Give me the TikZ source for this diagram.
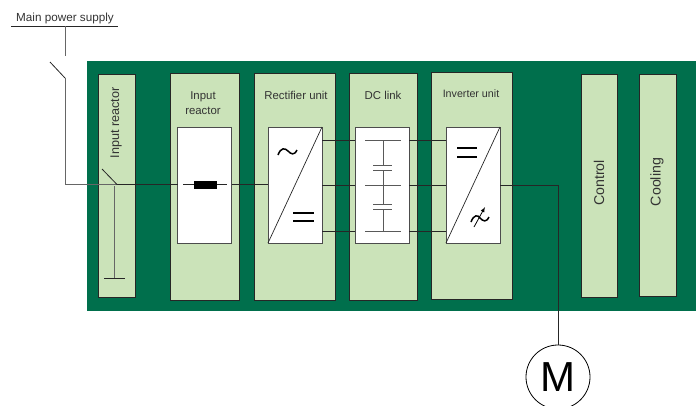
\documentclass[tikz,border=0pt]{standalone}
\usepackage{fontspec}
\setmainfont{Liberation Sans}
\definecolor{panelgreen}{HTML}{006F4C}
\definecolor{unitgreen}{HTML}{CBE3B9}
\definecolor{labelgrey}{HTML}{333333}
\definecolor{linegrey}{HTML}{666666}
\tikzset{
	panel/.style={fill=panelgreen,inner sep=0pt,outer sep=0pt},
	unitbox/.style={draw=black!85,fill=unitgreen,line width=0.8pt,inner sep=0pt,outer sep=0pt},
	whitebox/.style={draw=black!70,fill=white,line width=0.7pt,inner sep=0pt,outer sep=0pt,minimum width=54,minimum height=116},
	label/.style={text=labelgrey,font=\fontsize{11.4}{13}\selectfont,inner sep=0pt},
	sidelabel/.style={label,rotate=90,font=\fontsize{12.6}{14}\selectfont},
	biglabel/.style={label,rotate=90,font=\fontsize{14.2}{16}\selectfont},
	wire/.style={draw=black!85,line width=0.8pt},
	greywire/.style={draw=linegrey,line width=1pt},
	plate/.style={draw=black!65,line width=0.9pt},
	bar/.style={draw=black,line width=1.3pt},
}
\begin{document}
\begin{tikzpicture}[x=1pt,y=-1pt]
	\useasboundingbox (0,0) rectangle (700,405);
	\clip (0,0) rectangle (700,405);
	\node[panel,minimum width=609,minimum height=250] (panel) at (391.5,186) {};
	% units
	\node[unitbox,minimum width=37,minimum height=222.5] (earthing) at (117,185.75) {};
	\node[unitbox,minimum width=69,minimum height=227] (reactor) at (204.5,186.5) {};
	\node[unitbox,minimum width=81,minimum height=227] (rectifier) at (294.5,186.5) {};
	\node[unitbox,minimum width=68,minimum height=227] (dclink) at (383,186.5) {};
	\node[unitbox,minimum width=81,minimum height=227] (inverter) at (472,185.5) {};
	\node[unitbox,minimum width=36,minimum height=223] (control) at (599,185.5) {};
	\node[unitbox,minimum width=37,minimum height=222] (cooling) at (657.5,185) {};
	\node[whitebox] (reactorw) at (204.5,185) {};
	\node[whitebox] (rectifierw) at (295,185) {};
	\node[whitebox] (dclinkw) at (382,185) {};
	\node[whitebox] (inverterw) at (473,185) {};
	% labels
	\node[label,font=\fontsize{11.7}{13}\selectfont] (supply) at (65,18.5) {Main power supply};
	\node[sidelabel] (earthingl) at (116,123) {Input reactor};
	\node[label] (reactorl1) at (203,97) {Input};
	\node[label] (reactorl2) at (203,111) {reactor};
	\node[label] (rectifierl) at (296,95) {Rectifier unit};
	\node[label] (dclinkl) at (383,95) {DC link};
	\node[label,font=\fontsize{10.7}{13}\selectfont] (inverterl) at (471,94) {Inverter unit};
	\node[biglabel] (controll) at (599,183) {Control};
	\node[biglabel] (coolingl) at (657,182) {Cooling};
	% supply and switches
	\coordinate (busl) at (11,26);
	\coordinate (busr) at (118,26);
	\coordinate (bustap) at (65,26);
	\coordinate (openend) at (65,56);
	\coordinate (sw1a) at (50,62);
	\coordinate (sw1b) at (65,78);
	\coordinate (corner) at (65,184.5);
	\coordinate (sw2a) at (102,169);
	\coordinate (sw2b) at (117,184.5);
	\coordinate (earthtop) at (114,186);
	\coordinate (earthbot) at (114,278);
	\coordinate (earthl) at (104,278);
	\coordinate (earthr) at (125,278);
	\draw[wire] (busl) -- (busr);
	\draw[greywire] (bustap) -- (openend);
	\draw[wire] (sw1a) -- (sw1b);
	\draw[greywire] (sw1b) -- (corner) -- (panel.west |- corner);
	\draw[greywire] (panel.west |- corner) -- (sw2b);
	\draw[wire] (sw2a) -- (sw2b);
	\draw[greywire] (earthtop) -- (earthbot);
	\draw[wire] (earthl) -- (earthr);
	% main line
	\coordinate (leadl) at (183,184.5);
	\coordinate (leadr) at (227,184.5);
	\draw[wire] (sw2b) -- (reactorw.west |- sw2b);
	\draw[wire] (leadl) -- (leadr);
	\node[fill=black,inner sep=0pt,minimum width=23,minimum height=8] (choke) at (205.5,184.5) {};
	\draw[wire] (reactorw.east |- sw2b) -- (rectifierw.west |- sw2b);
	\foreach \yy/\nn in {140/top,185/mid,231/bot} {
		\coordinate (a\nn) at (322,\yy);
		\draw[wire] (rectifierw.east |- a\nn) -- (dclinkw.west |- a\nn);
		\draw[wire] (dclinkw.east |- a\nn) -- (inverterw.west |- a\nn);
		\draw[plate] (365,\yy) -- (401,\yy);
	}
	% capacitors
	\draw[plate] (383,140) -- (383,165);
	\draw[plate] (383,170) -- (383,204);
	\draw[plate] (383,209) -- (383,231);
	\foreach \yy in {165,170,204,209} {
		\draw[plate] (373,\yy) -- (392,\yy);
	}
	% converters
	\draw[wire,line width=0.7pt] (rectifierw.north east) -- (rectifierw.south west);
	\draw[wire,line width=0.7pt] (inverterw.north east) -- (inverterw.south west);
	\draw[line width=1.5pt] (278,155) .. controls (281,147) and (285,148) .. (288,151) .. controls (291,154) and (294,156) .. (297,150);
	\draw[bar] (293,213) -- (314,213);
	\draw[bar] (293,221) -- (314,221);
	\draw[bar] (457,148) -- (477,148);
	\draw[bar] (457,157) -- (477,157);
	\draw[line width=1.5pt] (471,222) .. controls (474,214) and (478,215) .. (480,218) .. controls (483,221) and (486,223) .. (489,217);
	\draw[-latex,line width=0.8pt] (474,227) -- (485,207);
	% motor
	\node[draw=black,fill=white,circle,line width=0.8pt,minimum size=64,inner sep=0pt,outer sep=0pt,font=\fontsize{42}{42}\selectfont] (motor) at (558,377) {M};
	\draw[wire] (inverterw.east |- amid) -- (motor.north |- amid) -- (motor.north);
\end{tikzpicture}
\end{document}
